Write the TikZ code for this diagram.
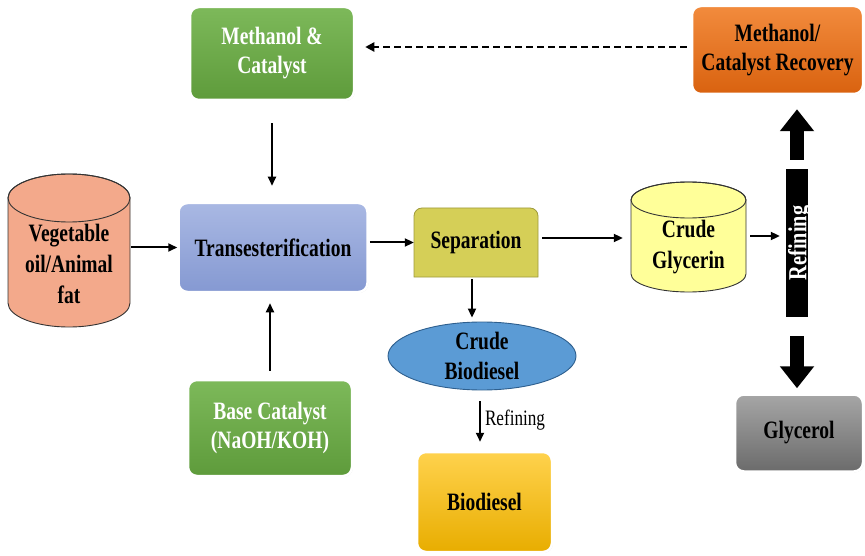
\documentclass[tikz,border=0pt]{standalone}
\usepackage{fontspec}
\newfontfamily\cf[FakeStretch=0.78]{Liberation Serif}
\usetikzlibrary{arrows.meta,shapes.geometric,shadows}
\definecolor{gtop}{HTML}{7DB95A}\definecolor{gbot}{HTML}{5E9B3B}
\definecolor{otop}{HTML}{F28B3D}\definecolor{obot}{HTML}{D9620F}
\definecolor{btop}{HTML}{A9B8E3}\definecolor{bbot}{HTML}{8599D2}
\definecolor{ytop}{HTML}{A6A6A6}\definecolor{ybot}{HTML}{6B6B6B}
\definecolor{ktop}{HTML}{FFD24D}\definecolor{kbot}{HTML}{E8AD00}
\definecolor{sepfill}{HTML}{D5CF57}\definecolor{sepdraw}{HTML}{9E9A3C}
\definecolor{glyfill}{HTML}{FFFF99}
\definecolor{vegfill}{HTML}{F3A98B}
\definecolor{crfill}{HTML}{5B9BD5}\definecolor{crdraw}{HTML}{2E5F8E}
\begin{document}
\begin{tikzpicture}[x=1pt,y=-1pt,
  box/.style={rounded corners=9pt, draw=white, line width=2.5pt,
    drop shadow={shadow xshift=0.8pt, shadow yshift=-0.8pt, opacity=0.35},
    font=\cf\bfseries\fontsize{25}{29}\selectfont, align=center, inner sep=0pt},
  txt/.style={font=\cf\bfseries\fontsize{25}{31}\selectfont, align=center, inner sep=0pt},
  arr/.style={line width=2pt, -{Triangle[length=9pt,width=8pt]}},
  blk/.style={line width=14pt, -{Triangle[length=22pt,width=33pt]}},
  cyl/.style={draw=black!80, line width=0.9pt}]
\useasboundingbox (0,0) rectangle (865,556);

% boxes
\node[box, top color=gtop, bottom color=gbot, text=white, minimum width=164, minimum height=93] (meth) at (272,53.5) {Methanol \&\\Catalyst};
\node[box, top color=otop, bottom color=obot, minimum width=171, minimum height=88] (recov) at (777.5,50) {Methanol/\\Catalyst Recovery};
\node[box, top color=btop, bottom color=bbot, minimum width=189, minimum height=89] (trans) at (273,247.5) {Transesterification};
\node[box, top color=gtop, bottom color=gbot, text=white, minimum width=164, minimum height=96] (base) at (270,428) {Base Catalyst\\(NaOH/KOH)};
\node[box, top color=ytop, bottom color=ybot, minimum width=128, minimum height=77] (glycerol) at (799,433) {Glycerol};
\node[box, top color=ktop, bottom color=kbot, minimum width=135, minimum height=100] (bio) at (484.5,502) {Biodiesel};

% vegetable cylinder
\filldraw[cyl, fill=vegfill] (8,198) -- (8,303) arc[start angle=180, end angle=0, x radius=61, y radius=24] -- (130,198) arc[start angle=0, end angle=-180, x radius=61, y radius=24] -- cycle;
\draw[cyl] (69,198) ellipse[x radius=61, y radius=24];
\node[txt, minimum width=122] (veg) at (69,264) {Vegetable\\oil/Animal\\fat};

% crude glycerin cylinder
\filldraw[cyl, fill=glyfill] (631,200) -- (631,274) arc[start angle=180, end angle=0, x radius=57.5, y radius=18] -- (746,200) arc[start angle=0, end angle=-180, x radius=57.5, y radius=18] -- cycle;
\draw[cyl] (688.5,200) ellipse[x radius=57.5, y radius=18];
\node[txt, minimum width=115] (glyc) at (688.5,247) {Crude\\Glycerin};

% separation
\filldraw[draw=sepdraw, line width=0.8pt, fill=sepfill] (414,277) -- (414,216) arc[start angle=180, end angle=270, radius=8] -- (530,208) arc[start angle=270, end angle=360, radius=8] -- (538,277) -- cycle;
\node[txt, minimum width=124, minimum height=69] (sep) at (476,242.5) {Separation};

% crude biodiesel
\node[ellipse, draw=crdraw, line width=0.9pt, fill=crfill, minimum width=188, minimum height=68, font=\cf\bfseries\fontsize{25}{30}\selectfont, align=center, inner sep=0pt] (crude) at (482,356) {Crude\\Biodiesel};

% refining bar
\node[fill=black, minimum width=22, minimum height=148, inner sep=0pt] (bar) at (797,243) {};
\node[rotate=90, text=white, font=\cf\bfseries\fontsize{26}{26}\selectfont, inner sep=0pt] (barlabel) at ([xshift=3pt]bar.center) {Refining};

% connectors
\draw[arr, shorten <=22pt, shorten >=16pt] (meth.south) -- (meth.south |- trans.north);
\draw[arr, shorten <=8pt, shorten >=10pt] (base.north) -- (base.north |- trans.south);
\draw[arr, shorten <=1pt] (veg.east |- trans.west) -- (trans.west);
\draw[arr, shorten <=1pt] ([yshift=5pt]trans.east) -- ([yshift=5pt]trans.east -| sep.west);
\draw[arr, shorten <=4pt, shorten >=8pt] ([yshift=4.5pt]sep.east) -- ([yshift=4.5pt]sep.east -| glyc.west);
\draw[arr, shorten <=4pt, shorten >=6pt] ([yshift=11pt]glyc.east) -- ([yshift=11pt]glyc.east -| bar.west);
\draw[arr, shorten <=2pt, shorten >=4pt] ([xshift=-4pt]sep.south) -- ([xshift=-4pt]sep.south |- crude.north);
\draw[arr, shorten <=11pt, shorten >=9pt] ([xshift=-2pt]crude.south) -- ([xshift=-2pt]crude.south |- bio.north)
  node[midway, right=4pt, font=\cf\fontsize{22}{24}\selectfont, inner sep=0pt] {Refining};
\draw[line width=2.4pt, dash pattern=on 7pt off 4pt, -{Triangle[length=9pt,width=9pt]}, shorten <=4pt, shorten >=10pt] ([yshift=3pt]recov.west) -- ([yshift=3pt]recov.west -| meth.east);
\draw[blk, shorten <=9pt, shorten >=14pt] (bar.north) -- (bar.north |- recov.south);
\draw[blk, shorten <=19pt, shorten >=5pt] (bar.south) -- (bar.south |- glycerol.north);
\end{tikzpicture}
\end{document}
